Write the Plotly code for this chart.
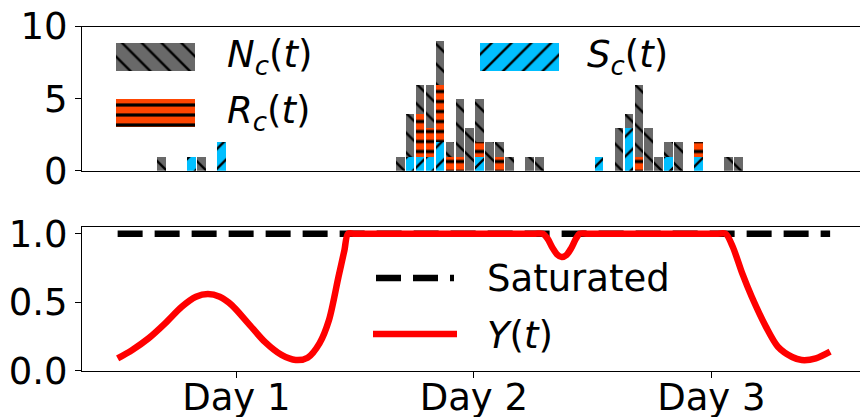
import plotly.graph_objects as go

# ---------------- data ----------------
hours = [16, 19, 20, 22, 40, 41, 42, 43, 44, 45, 46, 47, 48, 49, 50, 51, 53, 54,
         60, 62, 63, 64, 65, 66, 67, 68, 70, 73, 74]
S_c = [0, 1, 0, 2, 0, 1, 1, 1, 2, 0, 0, 0, 1, 0, 0, 0, 0, 0,
       1, 0, 3, 0, 0, 0, 1, 0, 1, 0, 0]
R_c = [0, 0, 0, 0, 0, 0, 3, 2, 4, 1, 1, 0, 1, 0, 1, 0, 0, 0,
       0, 0, 0, 1, 0, 0, 0, 0, 1, 0, 0]
N_c = [1, 0, 1, 0, 1, 3, 2, 3, 3, 1, 4, 3, 3, 2, 1, 1, 1, 1,
       0, 3, 1, 5, 3, 1, 1, 2, 0, 1, 1]

t_days = [0.50, 0.56, 0.63, 0.70, 0.77, 0.83, 0.88, 0.93, 0.98, 1.05, 1.12, 1.19,
          1.25, 1.30, 1.35, 1.39, 1.43, 1.455, 1.47, 1.50, 2.25, 2.29, 2.31, 2.33,
          2.35, 2.37, 2.39, 2.41, 2.43, 2.445, 2.48, 3.02, 3.06, 3.09, 3.13, 3.17,
          3.23, 3.28, 3.34, 3.38, 3.44, 3.50]
Y_t = [0.09, 0.15, 0.236, 0.346, 0.467, 0.54, 0.56, 0.54, 0.48, 0.346, 0.21, 0.115,
       0.078, 0.095, 0.20, 0.37, 0.686, 0.88, 1.0, 1.0, 1.0, 1.0, 0.965, 0.9,
       0.85, 0.83, 0.845, 0.895, 0.965, 1.0, 1.0, 1.0, 1.0, 0.905, 0.71, 0.54,
       0.32, 0.175, 0.10, 0.078, 0.09, 0.139]
sat_x = [0.5, 3.5]
sat_y = [1.0, 1.0]

day_ticks = [1, 2, 3]
day_labels = ["Day 1", "Day 2", "Day 3"]

# ---------------- style ----------------
W, H = 860, 417
FONT = "DejaVu Sans"
FS = 37
GRAY, ORANGE, BLUE = "#696969", "#FF4500", "#00BFFF"
PAT = {
    "N": dict(shape="\\", size=14, solidity=0.17, fgcolor="black", bgcolor=GRAY, fgopacity=1),
    "R": dict(shape="-", size=10, solidity=0.32, fgcolor="black", bgcolor=ORANGE, fgopacity=1),
    "S": dict(shape="/", size=14, solidity=0.17, fgcolor="black", bgcolor=BLUE, fgopacity=1),
}

fig = go.Figure()

for vals, key in [(S_c, "S"), (R_c, "R"), (N_c, "N")]:
    fig.add_trace(go.Bar(x=hours, y=vals, width=0.87, xaxis="x", yaxis="y",
                         marker=dict(color=PAT[key]["bgcolor"], pattern=PAT[key],
                                     line=dict(width=0)),
                         showlegend=False))

fig.add_trace(go.Scatter(x=sat_x, y=sat_y, mode="lines", xaxis="x2", yaxis="y2",
                         line=dict(color="black", width=6.5, dash="25px,12px"),
                         showlegend=False))
fig.add_trace(go.Scatter(x=t_days, y=Y_t, mode="lines", xaxis="x2", yaxis="y2",
                         line=dict(color="red", width=6.5, shape="spline", smoothing=0.8),
                         showlegend=False))

# ---------------- legend (pixel overlay axis) ----------------
for key, cx, top in [("N", 155.5, 43), ("R", 155.5, 99), ("S", 519, 43)]:
    fig.add_trace(go.Bar(x=[cx], y=[28], base=[top], width=[79], xaxis="x3", yaxis="y3",
                         marker=dict(color=PAT[key]["bgcolor"], pattern=PAT[key],
                                     line=dict(width=0)),
                         showlegend=False, hoverinfo="skip"))
fig.add_trace(go.Scatter(x=[376, 454], y=[278, 278], mode="lines", xaxis="x3", yaxis="y3",
                         line=dict(color="black", width=6.5, dash="25px,12px"),
                         showlegend=False, hoverinfo="skip"))
fig.add_trace(go.Scatter(x=[373, 457], y=[334, 334], mode="lines", xaxis="x3", yaxis="y3",
                         line=dict(color="red", width=6.5),
                         showlegend=False, hoverinfo="skip"))

labels = [
    (225, 57, "<i>N</i><sub><i>c</i></sub>(<i>t</i>)"),
    (225, 113, "<i>R</i><sub><i>c</i></sub>(<i>t</i>)"),
    (585, 57, "<i>S</i><sub><i>c</i></sub>(<i>t</i>)"),
    (485, 278, "Saturated"),
    (485, 335, "<i>Y</i>(<i>t</i>)"),
]
for x, y, txt in labels:
    fig.add_annotation(x=x, y=y, xref="x3", yref="y3", text=txt, showarrow=False,
                       xanchor="left", yanchor="middle",
                       font=dict(family=FONT, size=FS, color="black"))

x0 = 82 / W
axis_common = dict(showline=True, linecolor="black", linewidth=1, showgrid=False,
                   zeroline=False, automargin=False,
                   tickfont=dict(family=FONT, size=FS, color="black"))

fig.update_layout(
    width=W, height=H, margin=dict(l=0, r=0, t=0, b=0, autoexpand=False),
    paper_bgcolor="white", plot_bgcolor="rgba(0,0,0,0)",
    barmode="stack", bargap=0,
    xaxis=dict(domain=[x0, 1], range=[8.0, 86.24], anchor="y", mirror=True,
               showticklabels=False, ticks="", **axis_common),
    yaxis=dict(domain=[(H - 170.7) / H, (H - 26.5) / H], range=[0, 10], anchor="x",
               tickvals=[0, 5, 10], ticks="outside", ticklen=6, tickcolor="black",
               **axis_common),
    xaxis2=dict(domain=[x0, 1], range=[0.35, 0.35 + (W - 82) / 237.5], anchor="y2",
                mirror=True, tickvals=day_ticks, ticktext=day_labels,
                ticks="outside", ticklen=6, tickcolor="black", ticklabelstandoff=-12,
                **axis_common),
    yaxis2=dict(domain=[(H - 370.7) / H, (H - 227.3) / H], range=[0, 1.047], anchor="x2",
                tickvals=[0, 0.5, 1.0], ticktext=["0.0", "0.5", "1.0"],
                ticks="outside", ticklen=6, tickcolor="black", **axis_common),
    xaxis3=dict(domain=[0, 1], range=[0, W], anchor="y3", visible=False, fixedrange=True),
    yaxis3=dict(domain=[0, 1], range=[H, 0], anchor="x3", visible=False, fixedrange=True),
)

fig.write_html("out.html")
